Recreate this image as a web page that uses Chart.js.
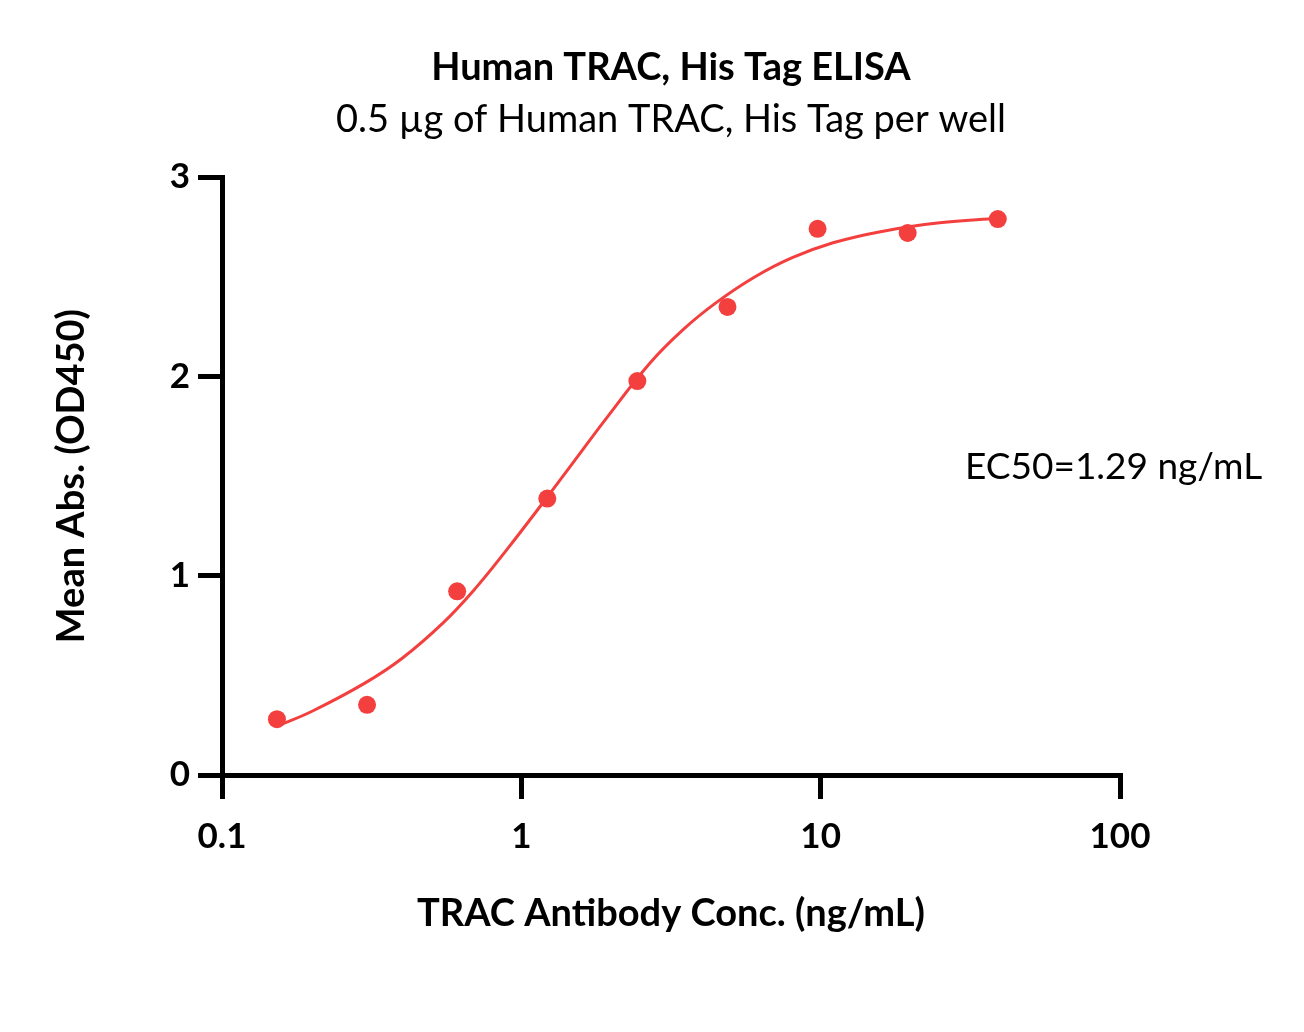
<!DOCTYPE html>
<html>
<head>
<meta charset="utf-8">
<script src="https://cdn.jsdelivr.net/npm/chart.js@4.4.1/dist/chart.umd.min.js"></script>
<style>
  html, body { margin: 0; padding: 0; background: #fff; }
</style>
</head>
<body>
<canvas id="elisa" width="1304" height="1032"></canvas>
<script>
// measured points (ng/mL, OD450)
const conc = [0.1526, 0.3052, 0.6104, 1.221, 2.441, 4.883, 9.766, 19.53, 39.06];
const absorb = [0.28, 0.352, 0.922, 1.387, 1.977, 2.349, 2.741, 2.72, 2.79];

// fitted curve
const fitX = [0.1526, 0.2, 0.3, 0.4, 0.55, 0.7, 0.9, 1.2, 1.5, 1.9, 2.7, 3.5, 4.5, 6, 8, 11, 16, 25, 39.06];
const fitY = [0.245, 0.32, 0.461, 0.586, 0.766, 0.934, 1.136, 1.38, 1.574, 1.78, 2.07, 2.24, 2.373, 2.498, 2.595, 2.671, 2.728, 2.771, 2.794];

const xTicks = [0.1, 1, 10, 100];
const yTicks = [0, 1, 2, 3];

const RED = "#f43f3f";
const FONT = "Lato, 'Liberation Sans', sans-serif";

const ec50Label = {
  id: "ec50Label",
  afterDraw(chart) {
    const ctx = chart.ctx;
    ctx.save();
    ctx.font = "37px " + FONT;
    ctx.fillStyle = "#000";
    ctx.textBaseline = "middle";
    ctx.textAlign = "left";
    ctx.fillText("EC50=1.29 ng/mL", 965, 467);
    ctx.restore();
  },
};

var ctx = document.getElementById("elisa").getContext("2d");
var elisaChart = new Chart(ctx, {
  type: "scatter",
  data: {
    datasets: [
      {
        label: "fit",
        data: fitX.map((x, i) => ({ x: x, y: fitY[i] })),
        showLine: true,
        borderColor: RED,
        borderWidth: 3,
        pointRadius: 0,
        tension: 0.4,
        order: 2,
      },
      {
        label: "data",
        data: conc.map((x, i) => ({ x: x, y: absorb[i] })),
        backgroundColor: RED,
        borderColor: RED,
        borderWidth: 0,
        pointRadius: 9,
        order: 1,
      },
    ],
  },
  options: {
    responsive: false,
    animation: false,
    layout: { padding: { left: 0, right: 184, top: 0, bottom: 0 } },
    plugins: {
      legend: { display: false },
      tooltip: { enabled: false },
      title: {
        display: true,
        fullSize: false,
        text: "Human TRAC, His Tag ELISA",
        color: "#000",
        font: { family: FONT, size: 38, weight: "bold", lineHeight: 1.2 },
        padding: { top: 45, bottom: 0 },
      },
      subtitle: {
        display: true,
        fullSize: false,
        text: "0.5 \u00b5g of Human TRAC, His Tag per well",
        color: "#000",
        font: { family: FONT, size: 38, weight: "normal", lineHeight: 1.2 },
        padding: { top: 6, bottom: 35 },
      },
    },
    scales: {
      x: {
        type: "logarithmic",
        min: 0.1,
        max: 100,
        afterBuildTicks: (scale) => {
          scale.ticks = xTicks.map((v) => ({ value: v }));
        },
        afterFit: (scale) => {
          scale.height = 257;
        },
        border: { display: true, color: "#000", width: 5 },
        grid: {
          drawOnChartArea: false,
          drawTicks: true,
          tickLength: 24,
          tickWidth: 5,
          tickColor: "#000",
          lineWidth: 5,
          color: "#000",
        },
        ticks: {
          color: "#000",
          padding: 17,
          maxRotation: 0,
          font: { family: FONT, size: 35, weight: "bold" },
          callback: (v) => String(v),
        },
        title: {
          display: true,
          text: "TRAC Antibody Conc. (ng/mL)",
          color: "#000",
          font: { family: FONT, size: 38, weight: "bold", lineHeight: 1.2 },
          padding: { top: 0, bottom: 95 },
        },
      },
      y: {
        min: 0,
        max: 3,
        afterBuildTicks: (scale) => {
          scale.ticks = yTicks.map((v) => ({ value: v }));
        },
        afterFit: (scale) => {
          scale.width = 222;
        },
        border: { display: true, color: "#000", width: 5 },
        grid: {
          drawOnChartArea: false,
          drawTicks: true,
          tickLength: 24,
          tickWidth: 5,
          tickColor: "#000",
          lineWidth: 5,
          color: "#000",
        },
        ticks: {
          color: "#000",
          padding: 8,
          font: { family: FONT, size: 35, weight: "bold" },
        },
        title: {
          display: true,
          text: "Mean Abs. (OD450)",
          color: "#000",
          font: { family: FONT, size: 38, weight: "bold", lineHeight: 1.2 },
          padding: { top: 49, bottom: 0 },
        },
      },
    },
  },
  plugins: [ec50Label],
});
</script>
</body>
</html>
